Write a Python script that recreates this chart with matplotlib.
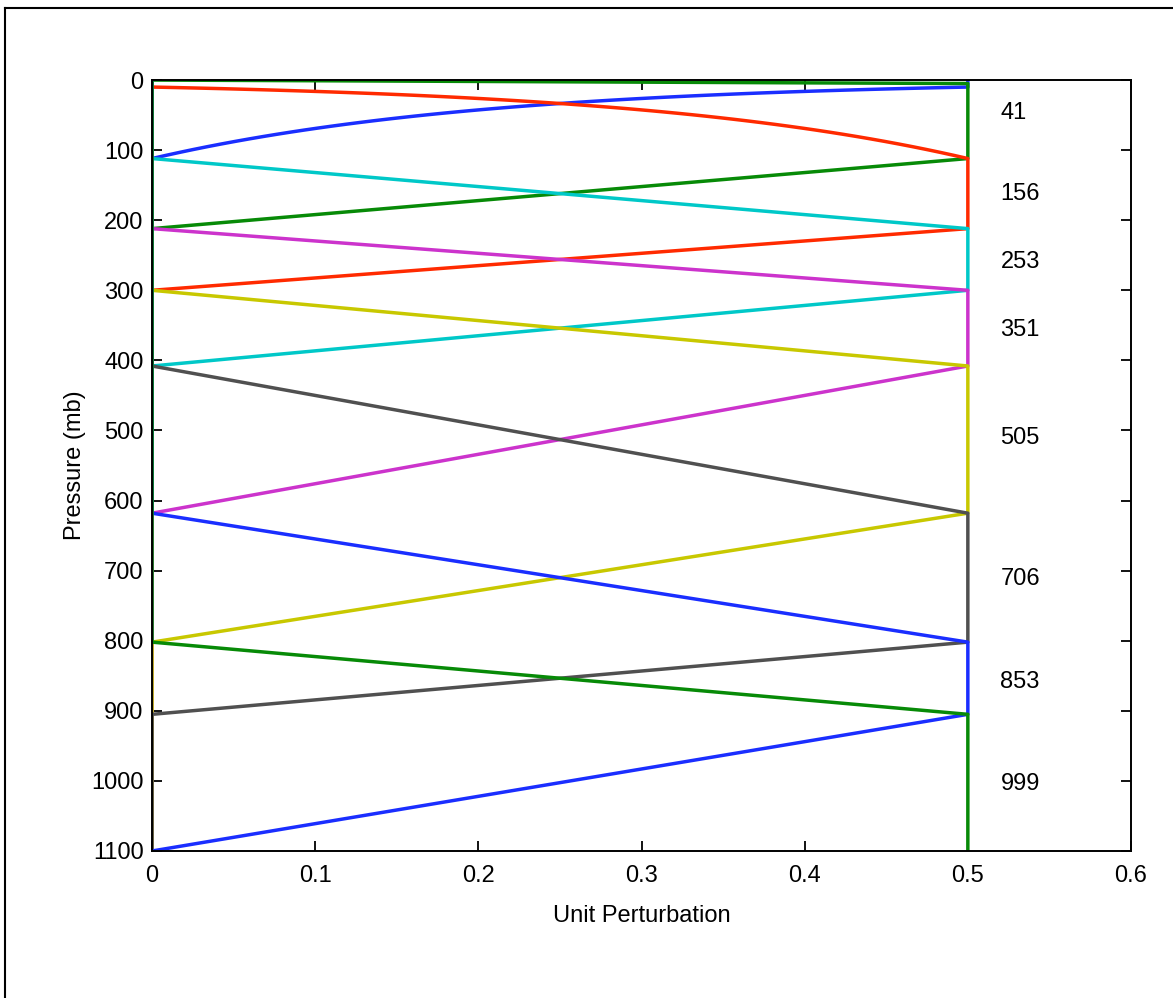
import numpy as np
import matplotlib
matplotlib.use("Agg")
import matplotlib.pyplot as plt
from matplotlib.lines import Line2D

# level edges (mb) for each perturbation: zero above, plateau start, plateau end, zero below
zero_top = [None, 0, 10, 112, 212, 300, 408, 618, 802]
plat_top = [0, 5, 112, 212, 300, 408, 618, 802, 905]
plat_bot = [10, 112, 212, 300, 408, 618, 802, 905, 1100]
zero_bot = [112, 212, 300, 408, 618, 802, 905, 1100, None]
log_ramp = ["bot", None, "top", None, None, None, None, None, None]  # ramps curved in log-p

colors = ["#1a2eff", "#078a07", "#ff2a00", "#00c8c8", "#cc33cc",
          "#c8c800", "#505050", "#1a2eff", "#078a07"]

layer_labels = ["41", "156", "253", "351", "505", "706", "853", "999"]
layer_p = [41, 156, 253, 351, 505, 706, 853, 999]

amp = 0.5
p_max = 1100

plt.rcParams['font.family'] = ['Liberation Sans', 'DejaVu Sans']

fig = plt.figure(figsize=(11.73, 9.98), dpi=100)
ax = fig.add_axes([0.1296, 0.1473, 0.8346, 0.7725])


def ramp(p0, p1, x0, x1, curved):
    if curved:
        pp = np.geomspace(p0, p1, 60)
        xx = x0 + (x1 - x0) * (np.log(pp) - np.log(p0)) / (np.log(p1) - np.log(p0))
    else:
        pp = np.array([p0, p1])
        xx = np.array([x0, x1])
    return list(xx), list(pp)


for i in range(len(colors)):
    xs, ps = [], []
    if zero_top[i] is not None:
        xs += [0, 0]
        ps += [0, zero_top[i]]
        rx, rp = ramp(zero_top[i], plat_top[i], 0, amp, log_ramp[i] == "top")
        xs += rx
        ps += rp
    else:
        xs += [amp]
        ps += [plat_top[i]]
    xs += [amp]
    ps += [plat_bot[i]]
    if zero_bot[i] is not None:
        rx, rp = ramp(plat_bot[i], zero_bot[i], amp, 0, log_ramp[i] == "bot")
        xs += rx
        ps += rp
        xs += [0]
        ps += [p_max]
    ax.plot(xs, ps, color=colors[i], lw=2.5)

for lab, p in zip(layer_labels, layer_p):
    ax.text(0.52, p + 6, lab, ha="left", va="center", fontsize=17)

ax.set_xlim(0, 0.6)
ax.set_ylim(p_max, 0)
ax.set_xticks(np.arange(0, 0.61, 0.1))
ax.set_xticklabels(["0", "0.1", "0.2", "0.3", "0.4", "0.5", "0.6"])
ax.set_yticks(np.arange(0, 1101, 100))
ax.tick_params(direction="in", length=7.2, width=1.3, top=True, right=True,
               labelsize=17)
ax.tick_params(axis="x", pad=10)
ax.tick_params(axis="y", pad=6)
for s in ax.spines.values():
    s.set_linewidth(1.4)
ax.set_xlabel("Unit Perturbation", fontsize=17, labelpad=13)
ax.set_ylabel("Pressure (mb)", fontsize=17, labelpad=4)

# figure frame (only top and left edges visible)
fig.add_artist(Line2D([5 / 1173, 5 / 1173], [0, 1 - 8 / 998], color="black", lw=1.5,
                      transform=fig.transFigure))
fig.add_artist(Line2D([5 / 1173, 1], [1 - 8 / 998, 1 - 8 / 998], color="black", lw=1.5,
                      transform=fig.transFigure))

fig.savefig("out.png", dpi=100)
